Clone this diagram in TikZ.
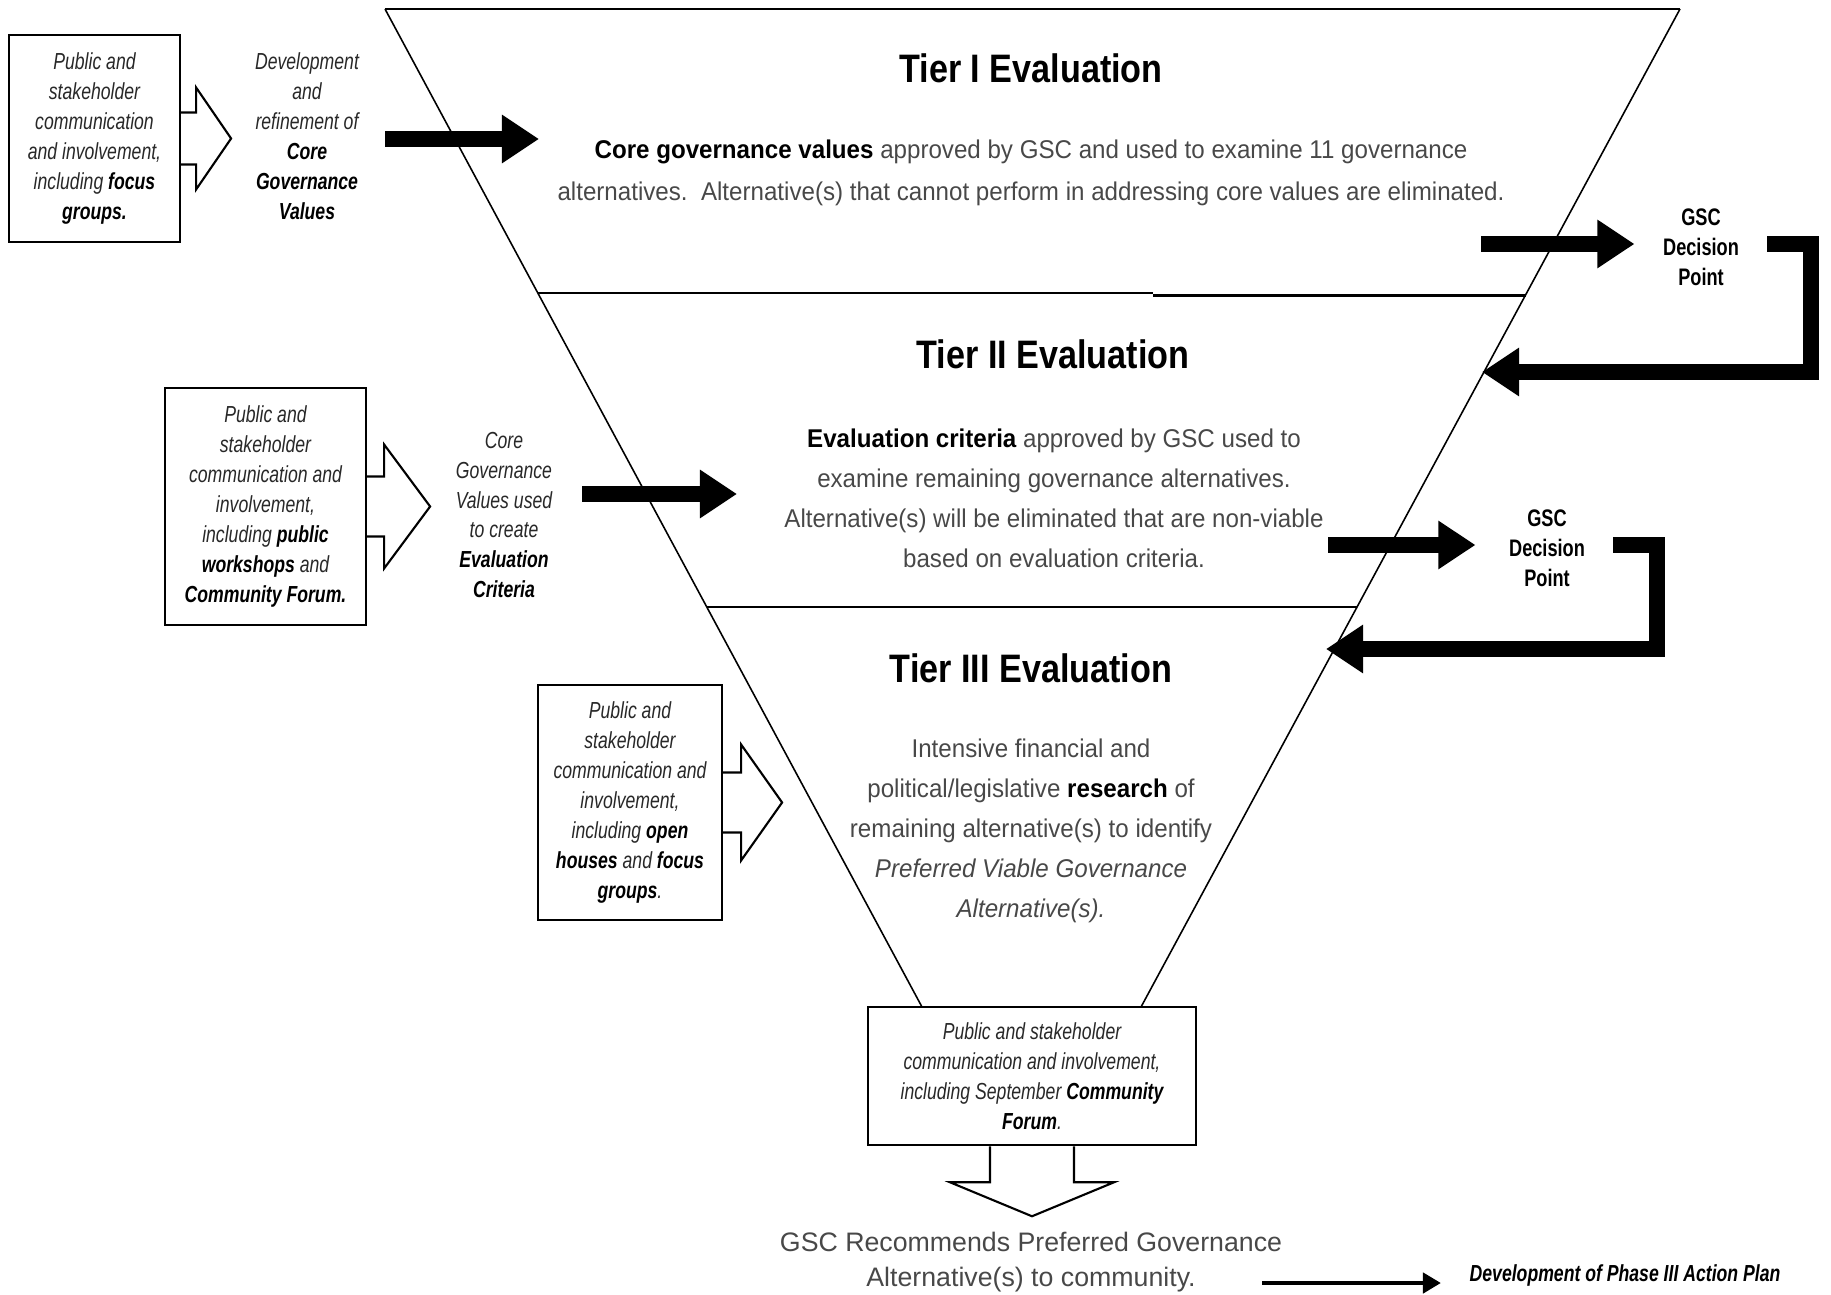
\documentclass[tikz,border=0pt]{standalone}
\usepackage{fontspec}
\setmainfont{Liberation Sans}
\newfontfamily\narrowfam{Liberation Sans}[FakeStretch=0.86]
\newfontfamily\bodyfam{Liberation Sans}[FakeStretch=0.94]
\newfontfamily\sidefam{Liberation Sans}[FakeStretch=0.76]
\usetikzlibrary{arrows.meta}
\definecolor{textgray}{RGB}{72,72,72}
\definecolor{sidegray}{RGB}{40,40,40}
\newcommand{\kw}[1]{\textcolor{black}{\bfseries #1}}

\tikzset{
  sidebox/.style={draw, line width=0.6pt, inner sep=0pt, align=center, text=sidegray,
    font=\sidefam\itshape\fontsize{6.6}{8.5}\selectfont},
  sidenote/.style={inner sep=0pt, align=center, text=sidegray,
    font=\sidefam\itshape\fontsize{6.6}{8.5}\selectfont},
  tierhead/.style={inner sep=0pt, font=\narrowfam\bfseries\fontsize{11.3}{13}\selectfont},
  tierbody/.style={inner sep=0pt, align=center, text=textgray,
    font=\bodyfam\fontsize{7.3}{11.4}\selectfont},
  decision/.style={inner sep=0pt, align=center, font=\sidefam\bfseries\fontsize{6.8}{8.5}\selectfont},
  fatarrow/.style={line width=0.16cm, line join=miter, -{Triangle[length=0.37cm,width=0.46cm]}},
  thinarrow/.style={line width=1.3pt, -{Triangle[length=0.18cm,width=0.2cm]}},
  hollow/.style={line width=0.6pt, line join=miter},
  funnel/.style={line width=0.45pt}
}

\begin{document}
\begin{tikzpicture}[x=0.01cm, y=-0.01cm]
\useasboundingbox (0,0) rectangle (1831,1295);

% the funnel
\coordinate (ftl) at (385,9);
\coordinate (ftr) at (1680,9);
\coordinate (fbl) at (922,1007);
\coordinate (fbr) at (1141,1007);
\draw[line width=0.7pt] (ftl) -- (ftr);
\draw[funnel] (ftl) -- (fbl);
\draw[funnel] (ftr) -- (fbr);
\draw[line width=0.6pt] (538,293) -- (1153,293);
\draw[line width=0.6pt] (1153,295.5) -- (1526,295.5);
\draw[line width=0.6pt] (707,607) -- (1357,607);

\node[tierhead] (t1head) at (1031,68) {Tier I Evaluation};
\node[tierbody, font=\bodyfam\fontsize{7.3}{12}\selectfont] (t1body) at (1031,173)
  {\kw{Core governance values} approved by GSC and used to examine 11 governance\\
  alternatives.\ \ Alternative(s) that cannot perform in addressing core values are eliminated.};
\node[tierhead] (t2head) at (1053,354) {Tier II Evaluation};
\node[tierbody] (t2body) at (1054,498) {\kw{Evaluation criteria} approved by GSC used to\\
  examine remaining governance alternatives.\\
  Alternative(s) will be eliminated that are non-viable\\
  based on evaluation criteria.};
\node[tierhead] (t3head) at (1031,668) {Tier III Evaluation};
\node[tierbody] (t3body) at (1031,831) {Intensive financial and\\
  political/legislative \kw{research} of\\
  remaining alternative(s) to identify\\
  \textit{Preferred Viable Governance}\\
  \textit{Alternative(s).}};

% public involvement boxes
\node[sidebox, minimum width=1.71cm, minimum height=2.07cm] (pubA) at (94.5,138.5)
  {Public and\\ stakeholder\\ communication\\ and involvement,\\ including \kw{focus}\\ \kw{groups.}};
\node[sidebox, minimum width=2.01cm, minimum height=2.37cm] (pubB) at (265.5,506.5)
  {Public and\\ stakeholder\\ communication and\\ involvement,\\ including \kw{public}\\ \kw{workshops} and\\ \kw{Community Forum.}};
\node[sidebox, minimum width=1.84cm, minimum height=2.35cm] (pubC) at (630,802.5)
  {Public and\\ stakeholder\\ communication and\\ involvement,\\ including \kw{open}\\ \kw{houses} and \kw{focus}\\ \kw{groups}.};
\node[sidebox, line width=0.7pt, minimum width=3.28cm, minimum height=1.38cm] (pubD) at (1032,1076)
  {Public and stakeholder\\ communication and involvement,\\ including September \kw{Community}\\ \kw{Forum}.};

\draw[hollow] ([shift={(0,-26)}]pubA.east) -- ++(15,0) -- ++(0,-25) -- ++(35,51) -- ++(-35,51) -- ++(0,-25) -- ++(-15,0);
\draw[hollow] ([shift={(0,-30)}]pubB.east) -- ++(17,0) -- ++(0,-32) -- ++(46,62) -- ++(-46,62) -- ++(0,-32) -- ++(-17,0);
\draw[hollow] ([shift={(0,-30)}]pubC.east) -- ++(18,0) -- ++(0,-28) -- ++(41,58) -- ++(-41,58) -- ++(0,-28) -- ++(-18,0);
\draw[hollow] ([shift={(-42,0)}]pubD.south) -- ++(0,36) -- ++(-40,0) -- ++(82,34) -- ++(82,-34) -- ++(-40,0) -- ++(0,-36);

\node[sidenote] (dev) at (307,136) {Development\\ and\\ refinement of\\ \kw{Core}\\ \kw{Governance}\\ \kw{Values}};
\node[sidenote] (crit) at (504,515) {Core\\ Governance\\ Values used\\ to create\\ \kw{Evaluation}\\ \kw{Criteria}};

\node[decision] (gsc1) at (1701,247) {GSC\\ Decision\\ Point};
\node[decision] (gsc2) at (1547,548) {GSC\\ Decision\\ Point};

\node[inner sep=0pt, align=center, text=textgray, font=\fontsize{7.6}{10}\selectfont] (rec) at (1031,1262)
  {GSC Recommends Preferred Governance\\ Alternative(s) to community.};
\node[inner sep=0pt, font=\sidefam\bfseries\itshape\fontsize{6.6}{8}\selectfont] (phase) at (1625,1275)
  {Development of Phase III Action Plan};

% black arrows
\coordinate (in1) at (385,139);
\coordinate (in1end) at (539,139);
\coordinate (in2) at (582,494);
\coordinate (in2end) at (737,494);
\coordinate (out1) at (1481,244);
\coordinate (turn1) at (1811,372);
\coordinate (back1) at (1482,372);
\coordinate (out2) at (1328,545);
\coordinate (turn2) at (1657,649);
\coordinate (back2) at (1326,649);
\coordinate (recout) at (1262,1283);

\draw[fatarrow] (in1) -- (in1end);
\draw[fatarrow] (in2) -- (in2end);
\draw[fatarrow, shorten >=0.28cm] (out1) -- (out1 -| gsc1.west);
\draw[fatarrow] (1767,244) -| (turn1) -- (back1);
\draw[fatarrow, shorten >=0.33cm] (out2) -- (out2 -| gsc2.west);
\draw[fatarrow] (1613,545) -| (turn2) -- (back2);
\draw[thinarrow, shorten >=0.28cm] (recout) -- (recout -| phase.west);
\end{tikzpicture}
\end{document}
